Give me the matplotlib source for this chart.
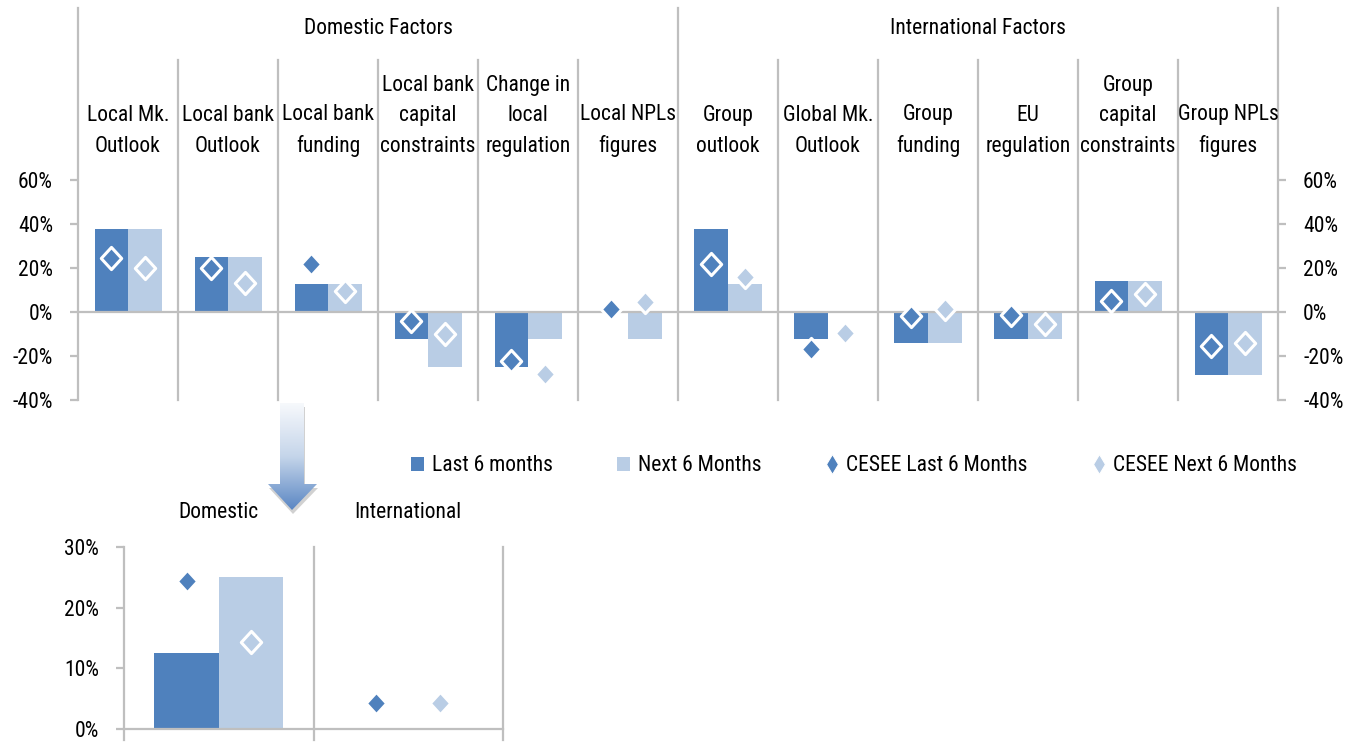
import numpy as np
import matplotlib
matplotlib.use("Agg")
import matplotlib.pyplot as plt
from matplotlib import font_manager
from matplotlib.lines import Line2D
from matplotlib.patches import Patch, Polygon
from matplotlib.path import Path
from matplotlib.colors import LinearSegmentedColormap
from matplotlib.ticker import FuncFormatter, FixedLocator
import matplotlib.transforms as mtransforms

# ---------------- data ----------------
categories = ["Local Mk.\nOutlook", "Local bank\nOutlook", "Local bank\nfunding",
              "Local bank\ncapital\nconstraints", "Change in\nlocal\nregulation",
              "Local NPLs\nfigures", "Group\noutlook", "Global Mk.\nOutlook",
              "Group\nfunding", "EU\nregulation", "Group\ncapital\nconstraints",
              "Group NPLs\nfigures"]
groups = ["Domestic Factors", "International Factors"]
last6 = [37.5, 25.0, 12.5, -12.5, -25.0, 0.0, 37.5, -12.5, -14.3, -12.5, 14.3, -28.6]
next6 = [37.5, 25.0, 12.5, -25.0, -12.5, -12.5, 12.5, 0.0, -14.3, -12.5, 14.3, -28.6]
cesee_last = [24.5, 20.0, 21.8, -4.3, -22.5, 1.4, 21.8, -16.8, -1.6, -1.4, 5.0, -15.5]
cesee_next = [20.0, 13.0, 9.7, -10.0, -28.2, 4.5, 15.7, -9.7, 1.4, -5.5, 8.0, -14.1]

sum_categories = ["Domestic", "International"]
sum_last6 = [12.5, 0.0]
sum_next6 = [25.0, 0.0]
sum_cesee_last = [24.4, 4.3]
sum_cesee_next = [14.4, 4.3]

series_names = ["Last 6 months", "Next 6 Months", "CESEE Last 6 Months", "CESEE Next 6 Months"]

# ---------------- style ----------------
avail = {f.name for f in font_manager.fontManager.ttflist}
fam = "DejaVu Sans"
for cand in ["Liberation Sans Narrow", "Roboto Condensed", "Open Sans Condensed", "DejaVu Sans Condensed"]:
    if cand in avail:
        fam = cand
        break
plt.rcParams["font.family"] = [fam, "DejaVu Sans"]
plt.rcParams["axes.unicode_minus"] = False
FS = 15.5

DARK = "#4F81BD"
LIGHT = "#B9CDE5"
GRID = "#BFBFBF"
LW = 1.6

W, H = 1357, 742
fig = plt.figure(figsize=(W / 100, H / 100), dpi=100)

def rect(x0, y0, x1, y1):
    return [x0 / W, 1 - y1 / H, (x1 - x0) / W, (y1 - y0) / H]

diamond = Path([(0, 1), (0.92, 0), (0, -1), (-0.92, 0), (0, 1)],
               [Path.MOVETO, Path.LINETO, Path.LINETO, Path.LINETO, Path.CLOSEPOLY])
pct = FuncFormatter(lambda v, p: f"{v:.0f}%")
MS = 16

# ---------------- top chart ----------------
ax = fig.add_axes(rect(78, 180, 1278, 400))
n = len(categories)
x = np.arange(n)
bw = 0.335
ax.bar(x - bw / 2, last6, bw, color=DARK, zorder=2)
ax.bar(x + bw / 2, next6, bw, color=LIGHT, zorder=2)
ax.plot(x - bw / 2, cesee_last, ls="none", marker=diamond, ms=MS, mfc=DARK,
        mec="white", mew=2.2, zorder=4)
ax.plot(x + bw / 2, cesee_next, ls="none", marker=diamond, ms=MS, mfc=LIGHT,
        mec="white", mew=2.2, zorder=4)
ax.set_xlim(-0.5, n - 0.5)
ax.set_ylim(-40, 60)
ax.axhline(0, color=GRID, lw=LW, zorder=3)
for s in ax.spines.values():
    s.set_visible(False)
ax.set_xticks([])
ax.yaxis.set_major_locator(FixedLocator([-40, -20, 0, 20, 40, 60]))
ax.yaxis.set_major_formatter(pct)
ax.tick_params(axis="y", which="both", left=True, right=True, labelleft=True,
               labelright=True, direction="out", length=6, width=LW, color=GRID,
               labelsize=FS, pad=12)
ax.set_facecolor("none")

tr = mtransforms.blended_transform_factory(ax.transData, ax.transAxes)
for b in np.arange(-0.5, n, 1.0):
    top = 1.782 if b in (-0.5, 5.5, n - 0.5) else 1.545
    ax.add_line(Line2D([b, b], [0, top], transform=tr, color=GRID, lw=LW,
                       clip_on=False, zorder=1))
for i, lab in enumerate(categories):
    ax.text(i, 1.105, lab, transform=tr, ha="center", va="bottom", fontsize=FS,
            linespacing=1.6, clip_on=False)
ax.text(2.5, 1.69, groups[0], transform=tr, ha="center", va="center", fontsize=FS)
ax.text(8.5, 1.69, groups[1], transform=tr, ha="center", va="center", fontsize=FS)

# ---------------- bottom chart ----------------
ax2 = fig.add_axes(rect(124, 547, 503, 729))
m = len(sum_categories)
x2 = np.arange(m)
bw2 = 0.34
ax2.bar(x2 - bw2 / 2, sum_last6, bw2, color=DARK, zorder=2)
ax2.bar(x2 + bw2 / 2, sum_next6, bw2, color=LIGHT, zorder=2)
ax2.plot(x2 - bw2 / 2, sum_cesee_last, ls="none", marker=diamond, ms=MS, mfc=DARK,
         mec="white", mew=2.2, zorder=4)
ax2.plot(x2 + bw2 / 2, sum_cesee_next, ls="none", marker=diamond, ms=MS, mfc=LIGHT,
         mec="white", mew=2.2, zorder=4)
ax2.set_xlim(-0.5, m - 0.5)
ax2.set_ylim(0, 30)
for s in ax2.spines.values():
    s.set_visible(False)
ax2.axhline(0, color=GRID, lw=LW, zorder=3, clip_on=False)
ax2.set_xticks([])
ax2.yaxis.set_major_locator(FixedLocator([0, 10, 20, 30]))
ax2.yaxis.set_major_formatter(pct)
ax2.tick_params(axis="y", direction="out", length=6, width=LW, color=GRID,
                labelsize=FS, pad=12)
ax2.set_facecolor("none")
tr2 = mtransforms.blended_transform_factory(ax2.transData, ax2.transAxes)
for b in np.arange(-0.5, m, 1.0):
    ax2.add_line(Line2D([b, b], [-0.06, 1.0], transform=tr2, color=GRID, lw=LW,
                        clip_on=False, zorder=1))
for i, lab in enumerate(sum_categories):
    ax2.text(i, 1.19, lab, transform=tr2, ha="center", va="center", fontsize=FS)

# ---------------- legend ----------------
handles = [Patch(facecolor=DARK, edgecolor="none"),
           Patch(facecolor=LIGHT, edgecolor="none"),
           Line2D([], [], ls="none", marker="d", ms=10, mfc=DARK, mec="white", mew=0.8),
           Line2D([], [], ls="none", marker="d", ms=10, mfc=LIGHT, mec="white", mew=0.8)]
fig.legend(handles, series_names, loc="center", bbox_to_anchor=(854 / W, 1 - 466 / H),
           ncol=4, frameon=False, fontsize=FS, handlelength=0.6, handleheight=0.6,
           handletextpad=0.35, columnspacing=3.0, borderpad=0)

# ---------------- arrow ----------------
ov = fig.add_axes([0, 0, 1, 1])
ov.set_xlim(0, W)
ov.set_ylim(H, 0)
ov.axis("off")
ov.set_facecolor("none")
pts = [(280, 403), (304, 403), (304, 484), (317, 484), (292, 510), (268, 484), (280, 484)]
shadow = Polygon([(px + 1, py + 4) for px, py in pts], closed=True, facecolor="#9a9a9a",
                 edgecolor="none", alpha=0.45, zorder=1)
ov.add_patch(shadow)
arrow = Polygon(pts, closed=True, facecolor="none", edgecolor="none", zorder=2)
ov.add_patch(arrow)
cmap = LinearSegmentedColormap.from_list("g", ["#f7f9fc", "#c5d5ea", "#5a86c3"])
grad = np.linspace(0, 1, 256).reshape(-1, 1)
im = ov.imshow(grad, cmap=cmap, extent=(266, 319, 510, 403), aspect="auto", zorder=2,
               interpolation="bilinear")
im.set_clip_path(arrow)
ov.set_xlim(0, W)
ov.set_ylim(H, 0)

fig.savefig("out.png", dpi=100)
